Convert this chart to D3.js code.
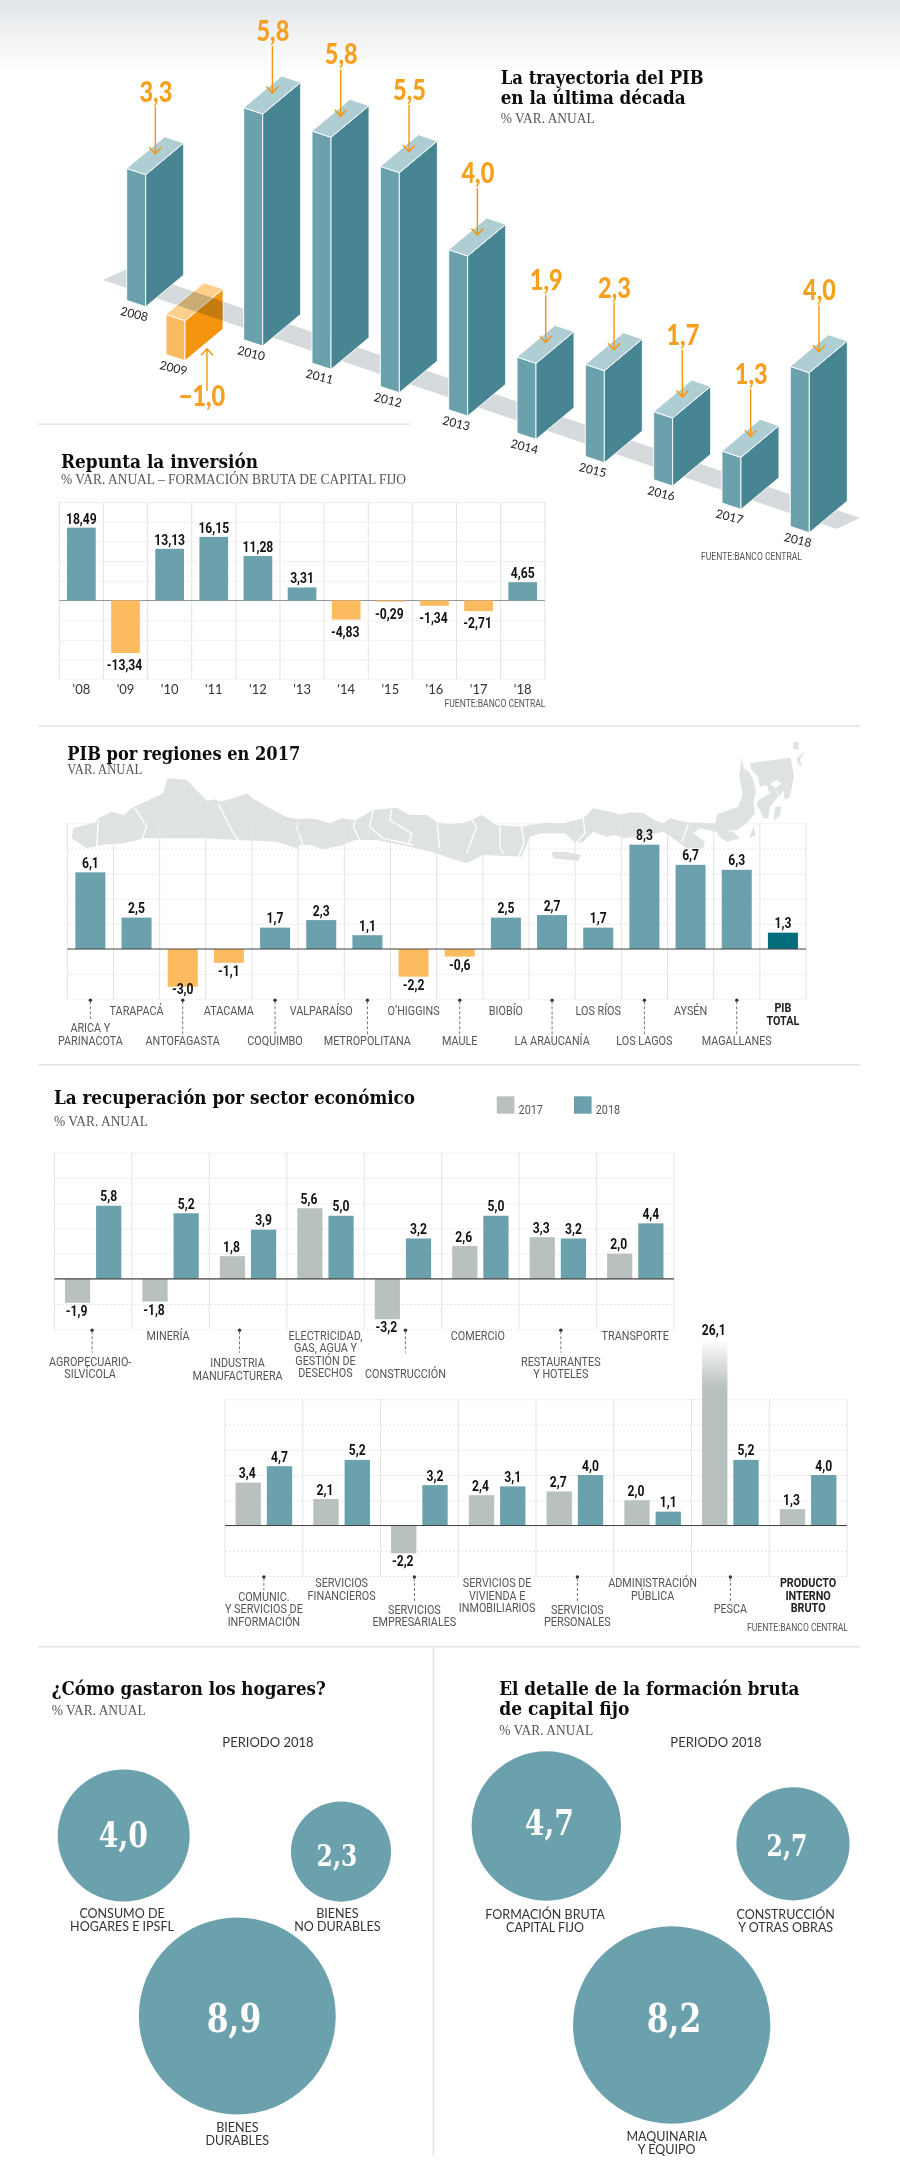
<!DOCTYPE html>
<html>
<head>
<meta charset="utf-8">
<script src="https://cdn.jsdelivr.net/npm/d3@7"></script>
<style>
  html, body { margin: 0; padding: 0; background: #fff; }
  svg { display: block; }
</style>
</head>
<body>
<svg id="chart" width="900" height="2182"></svg>
<script>
// ---- data ----
const gdpYears = [2008, 2009, 2010, 2011, 2012, 2013, 2014, 2015, 2016, 2017, 2018];
const gdpValues = [3.3, -1.0, 5.8, 5.8, 5.5, 4.0, 1.9, 2.3, 1.7, 1.3, 4.0];

const invYears = ["'08", "'09", "'10", "'11", "'12", "'13", "'14", "'15", "'16", "'17", "'18"];
const invValues = [18.49, -13.34, 13.13, 16.15, 11.28, 3.31, -4.83, -0.29, -1.34, -2.71, 4.65];

const regionNames = ['ARICA Y|PARINACOTA', 'TARAPACÁ', 'ANTOFAGASTA', 'ATACAMA', 'COQUIMBO', 'VALPARAÍSO',
  'METROPOLITANA', 'O’HIGGINS', 'MAULE', 'BIOBÍO', 'LA ARAUCANÍA', 'LOS RÍOS', 'LOS LAGOS', 'AYSÉN', 'MAGALLANES', 'PIB|TOTAL'];
const regionValues = [6.1, 2.5, -3.0, -1.1, 1.7, 2.3, 1.1, -2.2, -0.6, 2.5, 2.7, 1.7, 8.3, 6.7, 6.3, 1.3];

const sectorNamesA = ['AGROPECUARIO-|SILVÍCOLA', 'MINERÍA', 'INDUSTRIA|MANUFACTURERA', 'ELECTRICIDAD,|GAS, AGUA Y|GESTIÓN DE|DESECHOS',
  'CONSTRUCCIÓN', 'COMERCIO', 'RESTAURANTES|Y HOTELES', 'TRANSPORTE'];
const sector2017A = [-1.9, -1.8, 1.8, 5.6, -3.2, 2.6, 3.3, 2.0];
const sector2018A = [5.8, 5.2, 3.9, 5.0, 3.2, 5.0, 3.2, 4.4];

const sectorNamesB = ['COMUNIC.|Y SERVICIOS DE|INFORMACIÓN', 'SERVICIOS|FINANCIEROS', 'SERVICIOS|EMPRESARIALES', 'SERVICIOS DE|VIVIENDA E|INMOBILIARIOS',
  'SERVICIOS|PERSONALES', 'ADMINISTRACIÓN|PÚBLICA', 'PESCA', 'PRODUCTO|INTERNO|BRUTO'];
const sector2017B = [3.4, 2.1, -2.2, 2.4, 2.7, 2.0, 26.1, 1.3];
const sector2018B = [4.7, 5.2, 3.2, 3.1, 4.0, 1.1, 5.2, 4.0];

const homeNames = ['CONSUMO DE|HOGARES E IPSFL', 'BIENES|NO DURABLES', 'BIENES|DURABLES'];
const homeValues = [4.0, 2.3, 8.9];
const fbcfNames = ['FORMACIÓN BRUTA|CAPITAL FIJO', 'CONSTRUCCIÓN|Y OTRAS OBRAS', 'MAQUINARIA|Y EQUIPO'];
const fbcfValues = [4.7, 2.7, 8.2];

// ---- styles ----
const SERIF = '"DejaVu Serif Condensed","DejaVu Serif",serif';
const NARROW = 'Roboto,sans-serif';
const SANS = '"Lato","Open Sans",sans-serif';
const TEAL = '#6ba1ac', TEAL_DARK = '#468591', TEAL_TOP = '#afced4', TOTAL = '#026e7c';
const ORANGE = '#fdbb5f', ORANGE_DARK = '#f5950f', ORANGE_TOP = '#fdd08c', GREY = '#b9c0c0';
const GRID = '#e2e4e4';
const MAP = '#dfe2e3';

const svg = d3.select('#chart');
const defs = svg.append('defs');
const fmt = v => String(v.toFixed(1)).replace('.', ',');
const fmt2 = v => String(v.toFixed(2)).replace('.', ',');

// squeeze narrows the glyphs, none of the installed fonts is as condensed as the original
function text(g, str, x, y, o = {}) {
  const t = g.append('text').text(str)
    .attr('x', x).attr('y', y)
    .attr('text-anchor', o.anchor || 'start')
    .attr('font-family', o.font || NARROW)
    .attr('font-size', o.size || 12)
    .attr('font-weight', o.weight || 400)
    .attr('fill', o.fill || '#555');
  const squeeze = o.squeeze || (o.font ? 0 : 0.865);
  if (squeeze) {
    t.attr('textLength', t.node().getComputedTextLength() * squeeze).attr('lengthAdjust', 'spacingAndGlyphs');
  }
  return t;
}

function title(lines, x, y, widths) {
  lines.forEach((l, i) => {
    text(svg, l, x, y + i * 19.5, { font: SERIF, size: 19, weight: 700, fill: '#0c0c0c' })
      .attr('textLength', widths[i]).attr('lengthAdjust', 'spacingAndGlyphs');
  });
}

function subtitle(str, x, y, w) {
  text(svg, str, x, y, { font: '"Liberation Serif",serif', size: 14, fill: '#555' })
    .attr('textLength', w).attr('lengthAdjust', 'spacingAndGlyphs');
}

function divider(x1, y1, x2, y2, w = 1.5) {
  svg.append('line').attr('x1', x1).attr('y1', y1).attr('x2', x2).attr('y2', y2)
    .attr('stroke', '#e3e4e4').attr('stroke-width', w);
}

function source(xRight, y) {
  text(svg, 'FUENTE:BANCO CENTRAL', xRight, y, { anchor: 'end', size: 10.5, fill: '#555', font: NARROW })
    .attr('textLength', 101).attr('lengthAdjust', 'spacingAndGlyphs');
}

// horizontal dashed grid from an axis, vertical solid lines between the bands
function grid(g, x, y, ticks) {
  const [x0, x1] = x.range();
  const gy = g.append('g').attr('class', 'grid')
    .call(d3.axisLeft(y).tickValues(ticks).tickSize(-(x1 - x0)).tickFormat(''))
    .attr('transform', `translate(${x0},0)`);
  gy.select('.domain').remove();
  gy.selectAll('line').attr('stroke', GRID).attr('stroke-dasharray', '2,2');
  const edges = x.domain().map(d => x(d) - x.step() * x.paddingInner() / 2).concat(x1);
  g.append('g').selectAll('line').data(edges).join('line')
    .attr('x1', d => d).attr('x2', d => d)
    .attr('y1', y.range()[1]).attr('y2', y.range()[0])
    .attr('stroke', GRID);
}

function leader(g, xc, y0, y1) {
  g.append('circle').attr('cx', xc).attr('cy', y0 + 1).attr('r', 1.7).attr('fill', '#333');
  g.append('line').attr('x1', xc).attr('x2', xc).attr('y1', y0 + 2).attr('y2', y1)
    .attr('stroke', '#777').attr('stroke-dasharray', '3,2');
}

// ---- header band ----
const headGrad = defs.append('linearGradient').attr('id', 'headGrad').attr('x2', 0).attr('y2', 1);
headGrad.append('stop').attr('offset', 0).attr('stop-color', '#e2e6e9');
headGrad.append('stop').attr('offset', 1).attr('stop-color', '#fff');
svg.append('rect').attr('width', 900).attr('height', 72).attr('fill', 'url(#headGrad)');

// ---- 1. PIB, isometric columns ----
(function () {
  const g = svg.append('g');
  const xBase = d3.scaleLinear().domain([2008, 2009, 2010, 2018]).range([145.7, 185, 262.7, 809.3]);
  const yBase = d3.scaleLinear().domain([2008, 2009, 2010, 2018]).range([306.7, 320.7, 346, 532.7]);
  const h = d3.scaleLinear().domain([0, 1]).range([0, 40]);
  const L = [-19, -6.3], R = [38, -31.7], B = [19, -38];

  const groundPts = [[103, 280], [127, 269], [860, 518], [836.7, 529]];
  const ground = () => 'M' + groundPts.join('L') + 'Z';
  g.append('path').attr('d', ground()).attr('fill', '#d5dbdd');

  gdpYears.forEach((year, i) => {
    const v = gdpValues[i], mx = xBase(year), yb = yBase(year);
    const neg = v < 0;
    const yTop = neg ? yb : yb - h(v);
    const yBot = neg ? yb + h(-v) : yb;
    const cols = neg ? [ORANGE, ORANGE_DARK, ORANGE_TOP] : [TEAL, TEAL_DARK, TEAL_TOP];
    const poly = pts => 'M' + pts.map(p => p.join(',')).join('L') + 'Z';
    const left = [[mx, yTop], [mx + L[0], yTop + L[1]], [mx + L[0], yBot + L[1]], [mx, yBot]];
    const right = [[mx, yTop], [mx + R[0], yTop + R[1]], [mx + R[0], yBot + R[1]], [mx, yBot]];
    const top = [[mx, yTop], [mx + L[0], yTop + L[1]], [mx + B[0], yTop + B[1]], [mx + R[0], yTop + R[1]]];
    [left, right, top].forEach((p, k) => {
      g.append('path').attr('d', poly(p)).attr('fill', cols[k])
        .attr('stroke', '#fff').attr('stroke-width', 0.9).attr('stroke-linejoin', 'round');
    });
    if (neg) {
      // the floor strip shows through the orange block
      const clip = defs.append('clipPath').attr('id', 'negClip');
      clip.append('path').attr('d', poly(right));
      clip.append('path').attr('d', poly(top));
      g.append('path').attr('d', ground()).attr('fill', '#cdd2d4')
        .attr('clip-path', 'url(#negClip)').style('mix-blend-mode', 'multiply');
    }

    // year, tilted along the floor
    const lx = mx - 11.5, ly = yBot + 7.5;
    text(g, year, lx, ly + 4, { anchor: 'middle', font: SANS, size: 12, fill: '#222' })
      .attr('transform', `rotate(14 ${lx} ${ly})`);

    // value and arrow
    const ax = neg ? mx + 22 : mx + 9.7;
    const a = g.append('g').attr('stroke', ORANGE_DARK).attr('stroke-width', 1.4).attr('fill', 'none');
    if (neg) {
      const tip = yBot - 12, st = tip + 42;
      a.append('path').attr('d', `M${ax},${st}V${tip}M${ax - 6},${tip + 6.5}L${ax},${tip}L${ax + 6},${tip + 6.5}`);
      text(g, '−' + fmt(-v), ax - 5, st + 15, { anchor: 'middle', font: SANS, size: 28, weight: 900, fill: '#f6a01e', squeeze: 0.84 });
    } else {
      const tip = yTop - 21, st = tip - 47;
      a.append('path').attr('d', `M${ax},${st}V${tip}M${ax - 6},${tip - 6.5}L${ax},${tip}L${ax + 6},${tip - 6.5}`);
      text(g, fmt(v), ax + 0.5, st - 5, { anchor: 'middle', font: SANS, size: 28, weight: 900, fill: '#f6a01e', squeeze: 0.84 });
    }
  });
})();

title(['La trayectoria del PIB', 'en la última década'], 500.7, 84.4, [203, 185]);
subtitle('% VAR. ANUAL', 500.7, 123, 94);
source(802, 560);
divider(38, 424.3, 410, 424.3);

// ---- 2. Inversion ----
title(['Repunta la inversión'], 61, 468, [197]);
subtitle('% VAR. ANUAL – FORMACIÓN BRUTA DE CAPITAL FIJO', 61, 484, 345);
(function () {
  const g = svg.append('g');
  const x = d3.scaleBand().domain(invYears).range([59.3, 544.8]).paddingInner(0.35).paddingOuter(0.175);
  const y = d3.scaleLinear().domain([-20, 25]).range([679.3, 502]);
  grid(g, x, y, d3.range(-20, 26, 5));
  g.append('line').attr('x1', 59.3).attr('x2', 544.8).attr('y1', y(0)).attr('y2', y(0)).attr('stroke', '#999');
  g.selectAll('rect.b').data(invValues).join('rect').attr('class', 'b')
    .attr('x', (d, i) => x(invYears[i])).attr('width', x.bandwidth())
    .attr('y', d => y(Math.max(d, 0))).attr('height', d => Math.abs(y(d) - y(0)))
    .attr('fill', d => d < 0 ? ORANGE : TEAL);
  invValues.forEach((d, i) => {
    const cx = x(invYears[i]) + x.bandwidth() / 2;
    text(g, fmt2(d), cx - (d < 0 ? 1 : 0), d < 0 ? y(d) + 17 : y(d) - 4, { anchor: 'middle', weight: 700, size: 14, fill: '#111' });
  });
  const ax = g.append('g').attr('transform', 'translate(0,694)').call(d3.axisBottom(x).tickSize(0).tickPadding(0));
  ax.select('.domain').remove();
  ax.selectAll('text').attr('dy', 0).attr('y', 0).attr('font-family', SANS).attr('font-size', 13).attr('fill', '#333');
})();
source(545.5, 706.7);
divider(38, 726, 860, 726);

// ---- 3. Regiones ----
// silhouette of the country, only a backdrop: traced points, not data
const mapOutline = [[125,325],[130,295],[195,278],[205,265],[245,245],[280,255],[310,232],[345,215],[400,190],[412,145],[470,150],[500,180],[530,212],[558,208],[568,215],[610,205],[650,190],[672,208],[720,235],[770,262],[812,268],[825,265],[860,268],[900,280],[935,265],[978,270],[1030,240],[1100,233],[1140,255],[1190,255],[1225,278],[1260,283],[1300,278],[1330,268],[1355,255],[1400,285],[1475,290],[1500,285],[1550,278],[1600,280],[1660,265],[1690,235],[1740,245],[1770,253],[1810,247],[1840,250],[1880,273],[1900,280],[1920,265],[1970,277],[2055,280],[2062,253],[2125,230],[2138,195],[2128,135],[2135,83],[2142,115],[2158,127],[2170,150],[2178,185],[2170,215],[2175,250],[2150,280],[2120,300],[2055,305],[2010,295],[1990,310],[2025,335],[2020,355],[1970,355],[1950,340],[1900,305],[1860,315],[1780,325],[1755,315],[1730,320],[1690,305],[1660,335],[1638,340],[1605,310],[1550,310],[1535,310],[1500,320],[1475,380],[1360,375],[1310,400],[1260,385],[1220,370],[1140,350],[1040,330],[975,330],[940,345],[880,358],[840,345],[810,345],[800,355],[740,335],[620,330],[520,325],[420,325],[345,325],[280,340],[215,345],[170,355]];
const mapIslands = [
  [[1565,365],[1605,365],[1652,375],[1645,393],[1570,385]],
  [[2160,100],[2282,83],[2292,140],[2280,200],[2265,210],[2260,180],[2248,200],[2240,180],[2220,190],[2210,165],[2190,170],[2185,140],[2165,120]],
  [[2185,210],[2238,180],[2245,200],[2220,230],[2215,265],[2200,265],[2190,240],[2180,225]],
  [[2235,230],[2255,230],[2250,255],[2232,273]],
  [[2290,35],[2305,35],[2305,60],[2290,55]],
  [[2300,85],[2325,65],[2310,90],[2318,115],[2305,100]],
  [[2170,290],[2178,315],[2158,325]],
  [[2060,300],[2110,305],[2130,325],[2090,335],[2065,318]]
];
const mapHole = [[2220,163],[2240,150],[2255,160],[2238,175]];
const mapBorders = [[[205,270],[200,350]], [[315,235],[350,290],[335,330]], [[565,222],[605,300],[625,332]], [[805,275],[800,295],[820,345]], [[975,270],[970,290],[990,332]], [[1030,240],[1018,290],[1060,325],[1150,345]], [[1085,238],[1080,270],[1145,310],[1135,345]], [[1222,278],[1228,355]], [[1325,270],[1340,290],[1310,370]], [[1410,285],[1410,350],[1420,372]], [[1475,290],[1482,340],[1465,382]], [[1660,265],[1665,310],[1638,340]], [[1975,283],[1955,337]]];

(function () {
  const m = svg.append('g').attr('transform', 'translate(30,730) scale(0.3333)');
  const line = d3.line();
  m.append('path').attr('d', line(mapOutline) + 'Z').attr('fill', MAP);
  m.selectAll('path.i').data(mapIslands).join('path').attr('class', 'i')
    .attr('d', d => line(d) + 'Z').attr('fill', MAP);
  m.append('path').attr('d', line(mapHole) + 'Z').attr('fill', '#fff');
  m.selectAll('path.c').data(mapBorders).join('path').attr('class', 'c')
    .attr('d', line).attr('fill', 'none').attr('stroke', '#fff').attr('stroke-width', 4);

  const g = svg.append('g');
  const x = d3.scaleBand().domain(regionNames).range([67.3, 806]).paddingInner(0.35).paddingOuter(0.175);
  const y = d3.scaleLinear().domain([-4, 10]).range([999.3, 823.3]);
  grid(g, x, y, d3.range(-4, 11, 2));
  g.selectAll('rect.b').data(regionValues).join('rect').attr('class', 'b')
    .attr('x', (d, i) => x(regionNames[i])).attr('width', x.bandwidth())
    .attr('y', d => y(Math.max(d, 0))).attr('height', d => Math.abs(y(d) - y(0)))
    .attr('fill', (d, i) => i === regionNames.length - 1 ? TOTAL : d < 0 ? ORANGE : TEAL);
  g.append('line').attr('x1', 67.3).attr('x2', 806).attr('y1', y(0)).attr('y2', y(0)).attr('stroke', '#444').attr('stroke-width', 1.2);
  regionValues.forEach((d, i) => {
    const cx = x(regionNames[i]) + x.bandwidth() / 2;
    text(g, fmt(d), cx, d < 0 ? Math.min(y(d) + 13, 994) : y(d) - 4.5, { anchor: 'middle', weight: 700, size: 14, fill: '#111' });
    const lines = regionNames[i].split('|');
    const last = i === regionNames.length - 1;
    if (last) {
      lines.forEach((l, k) => text(g, l, cx, 1012 + k * 13, { anchor: 'middle', weight: 700, size: 12.5, fill: '#222' }));
    } else if (i % 2 === 1) {
      text(g, lines[0], cx, 1015, { anchor: 'middle', size: 12.5 });
    } else {
      leader(g, cx, 999.3, i === 0 ? 1019 : 1036);
      lines.forEach((l, k) => text(g, l, cx, 1045 - (lines.length - 1 - k) * 13, { anchor: 'middle', size: 12.5 }));
    }
  });
})();
title(['PIB por regiones en 2017'], 67.3, 760, [233]);
subtitle('VAR. ANUAL', 67.3, 774, 75);
divider(38, 1064.7, 860, 1064.7);

// ---- 4. Sectores ----
title(['La recuperación por sector económico'], 54, 1104, [361]);
subtitle('% VAR. ANUAL', 54, 1125.7, 94);
[[496.8, GREY, '2017'], [574, TEAL, '2018']].forEach(([lx, c, l]) => {
  svg.append('rect').attr('x', lx).attr('y', 1096.3).attr('width', 17.6).attr('height', 17.4).attr('fill', c);
  text(svg, l, lx + 21.8, 1114, { size: 12.5 });
});

// label layout per panel: row baselines and small shifts from the group centre
function sectorPanel(names, s17, s18, xr, yr, layout) {
  const g = svg.append('g');
  const x = d3.scaleBand().domain(names).range(xr).paddingInner(0.272).paddingOuter(0.136);
  const inner = d3.scaleBand().domain([0, 1]).range([0, x.bandwidth()]).paddingInner(0.19);
  const y = d3.scaleLinear().domain([-4, 10]).range(yr);
  grid(g, x, y, d3.range(-4, 11, 2));
  const breakValue = 14.75; // the Pesca column is cut here and fades out
  names.forEach((n, i) => {
    [s17[i], s18[i]].forEach((d, k) => {
      const bx = x(n) + inner(k);
      const shown = Math.min(d, breakValue);
      const top = y(Math.max(shown, 0));
      g.append('rect').attr('x', bx).attr('width', inner.bandwidth())
        .attr('y', top).attr('height', Math.abs(y(shown) - y(0)))
        .attr('fill', d > breakValue ? 'url(#pescaGrad)' : k ? TEAL : GREY);
      const ty = d < 0 ? y(d) + 13 : top - 4.5;
      text(g, fmt(d), bx + inner.bandwidth() / 2 - (k ? 0 : 1), ty, { anchor: 'middle', weight: 700, size: 14, fill: '#111' });
    });
  });
  g.append('line').attr('x1', xr[0]).attr('x2', xr[1]).attr('y1', y(0)).attr('y2', y(0)).attr('stroke', '#444').attr('stroke-width', 1.2);
  names.forEach((n, i) => {
    const o = layout[i];
    const cx = x(n) + x.bandwidth() / 2 + (o.dx || 0);
    const lines = n.split('|');
    if (o.to) leader(g, cx + (o.ldx || 0), yr[0], o.to);
    lines.forEach((l, k) => text(g, l, cx, o.y + k * 12.4, { anchor: 'middle', size: 12.5, weight: o.bold ? 700 : 400, fill: o.bold ? '#222' : '#555' }));
  });
}

const pescaGrad = defs.append('linearGradient').attr('id', 'pescaGrad').attr('x2', 0).attr('y2', 1);
pescaGrad.append('stop').attr('offset', 0).attr('stop-color', '#fff');
pescaGrad.append('stop').attr('offset', 0.26).attr('stop-color', GREY);

sectorPanel(sectorNamesA, sector2017A, sector2018A, [54.4, 674], [1329.3, 1152.7], [
  { y: 1366, to: 1352.7, dx: -3, ldx: 2 }, { y: 1340, dx: -2.5 }, { y: 1367.3, to: 1352.7, dx: -10.5, ldx: 2 },
  { y: 1340 }, { y: 1378.3, to: 1352.7, dx: 2.5 }, { y: 1340, dx: -2.5 }, { y: 1366, to: 1352.7, dx: 3 }, { y: 1340 }
]);
sectorPanel(sectorNamesB, sector2017B, sector2018B, [225, 847], [1576, 1399.3], [
  { y: 1600.7, to: 1590 }, { y: 1587.3 }, { y: 1614, to: 1601, dx: -5 }, { y: 1587.3 },
  { y: 1614, to: 1601, dx: 2.5 }, { y: 1587.3 }, { y: 1612.7, to: 1601 }, { y: 1587.3, bold: true }
]);
source(848, 1630.7);
divider(38, 1646.7, 860, 1646.7);
divider(433.3, 1646.7, 433.3, 2155);

// ---- 5. Burbujas ----
function bubbles(names, values, k, layout) {
  const g = svg.append('g');
  const r = d3.scaleSqrt().domain([0, 1]).range([0, k]);
  values.forEach((v, i) => {
    const o = layout[i];
    g.append('circle').attr('cx', o.cx).attr('cy', o.cy).attr('r', r(v)).attr('fill', TEAL);
    text(g, fmt(v), o.tx, o.ty, { anchor: 'middle', font: SERIF, weight: 700, size: o.size, fill: '#fff', squeeze: 0.87 });
    names[i].split('|').forEach((l, j) => text(g, l, o.lx, o.ly + j * 12.6, { anchor: 'middle', font: SANS, size: 12.5, fill: '#333' }));
  });
}

title(['¿Cómo gastaron los hogares?'], 51.7, 1695.3, [274]);
subtitle('% VAR. ANUAL', 51.7, 1715, 94);
text(svg, 'PERIODO 2018', 268, 1746.5, { anchor: 'middle', font: SANS, size: 13, fill: '#333' });
bubbles(homeNames, homeValues, 33, [
  { cx: 123.7, cy: 1835.6, tx: 123.3, ty: 1847, size: 36, lx: 122, ly: 1918 },
  { cx: 341, cy: 1851.6, tx: 337, ty: 1866, size: 30, lx: 337.3, ly: 1918 },
  { cx: 237.3, cy: 2016, tx: 234, ty: 2032, size: 40, lx: 237.3, ly: 2132 }
]);

title(['El detalle de la formación bruta', 'de capital fijo'], 499.3, 1695, [300, 130]);
subtitle('% VAR. ANUAL', 499.3, 1735, 94);
text(svg, 'PERIODO 2018', 716, 1746.5, { anchor: 'middle', font: SANS, size: 13, fill: '#333' });
bubbles(fbcfNames, fbcfValues, 34.45, [
  { cx: 546.3, cy: 1826, tx: 549.3, ty: 1835, size: 36, lx: 545, ly: 1919.3 },
  { cx: 793, cy: 1843.8, tx: 787, ty: 1856, size: 30, lx: 785.7, ly: 1919.3 },
  { cx: 671.7, cy: 2025, tx: 674, ty: 2032, size: 40, lx: 666.7, ly: 2141 }
]);
</script>
</body>
</html>
